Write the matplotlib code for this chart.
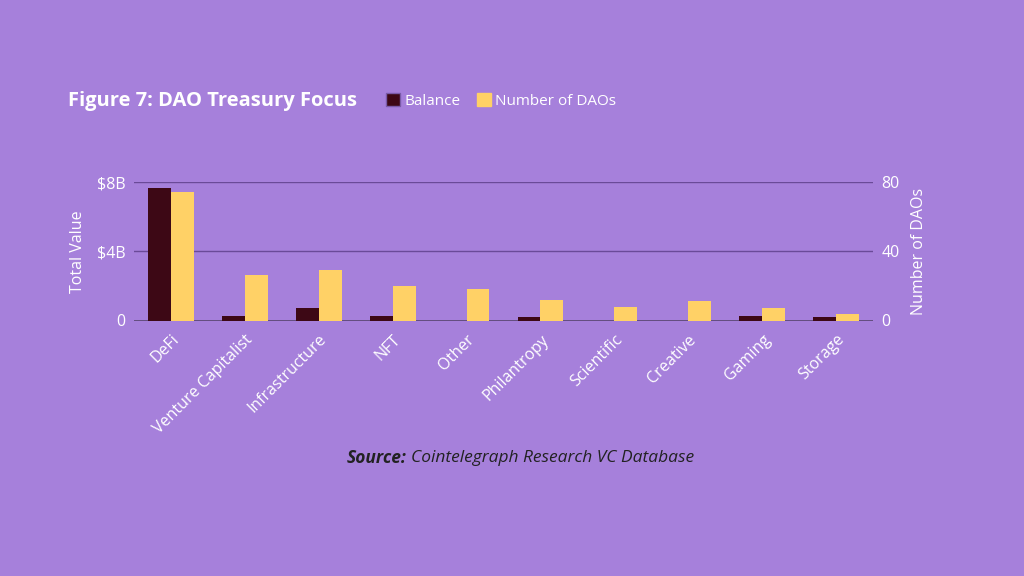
import numpy as np
import matplotlib.pyplot as plt

categorias = ["DeFi", "Venture Capitalist", "Infrastructure", "NFT", "Other",
              "Philantropy", "Scientific", "Creative", "Gaming", "Storage"]
balance_b = [7.64, 0.28, 0.74, 0.28, 0.0, 0.22, 0.0, 0.0, 0.28, 0.18]
num_daos = [74, 26, 29, 20, 18, 12, 8, 11, 7, 3.5]

FONDO = "#a680db"
COLOR_BAL = "#3d0815"
COLOR_DAO = "#ffd166"
GRILLA = "#6a4a98"

plt.rcParams["font.family"] = ["Open Sans", "DejaVu Sans"]

fig = plt.figure(figsize=(10.24, 5.76), dpi=100, facecolor=FONDO)
ax = fig.add_axes([134 / 1024, 1 - 320.5 / 576, (873 - 134) / 1024, (320.5 - 182) / 576])
ax.set_facecolor(FONDO)
ax2 = ax.twinx()

x = np.arange(len(categorias))
ancho = 0.31
ax.bar(x - ancho / 2, balance_b, ancho, color=COLOR_BAL, zorder=3)
ax2.bar(x + ancho / 2, num_daos, ancho, color=COLOR_DAO, zorder=3)

ax.set_xlim(-0.5, len(categorias) - 0.5)
ax.set_ylim(0, 8)
ax2.set_ylim(0, 80)
ax.set_yticks([0, 4, 8])
ax.set_yticklabels(["0", "$4B", "$8B"])
ax2.set_yticks([0, 40, 80])

ax.grid(axis="y", color=GRILLA, linewidth=1, zorder=0)
ax.set_axisbelow(True)
for a in (ax, ax2):
    for s in a.spines.values():
        s.set_visible(False)
    a.tick_params(length=0, colors="white", labelsize=11.5)
ax.tick_params(axis="y", pad=6)
ax2.tick_params(axis="y", pad=6)
ax.axhline(0, color="#5e4a78", linewidth=2, zorder=2)

ax.set_xticks(x)
ax.set_xticklabels(categorias, rotation=45, ha="right", rotation_mode="anchor", fontsize=11.5)
ax.tick_params(axis="x", pad=8)

ax.set_ylabel("Total Value", color="white", fontsize=11.5, labelpad=8)
ax2.set_ylabel("Number of DAOs", color="white", fontsize=11.5, labelpad=8)

fig.text(68 / 1024, 1 - 101 / 576, "Figure 7: DAO Treasury Focus", color="white",
         fontsize=14.5, fontweight="bold", va="center", ha="left")

handles = [plt.Rectangle((0, 0), 1, 1, color=COLOR_BAL, ec="#7a5aa8"),
           plt.Rectangle((0, 0), 1, 1, color=COLOR_DAO)]
fig.legend(handles, ["Balance", "Number of DAOs"], loc="center left",
           bbox_to_anchor=(372 / 1024, 1 - 101 / 576), ncol=2, frameon=False,
           handlelength=0.9, handleheight=0.9, handletextpad=0.3, columnspacing=1.1,
           labelcolor="white", fontsize=11)

fig.text(407 / 1024, 1 - 458 / 576, "Source:", color="#222222", fontsize=12.5,
         fontweight="bold", style="italic", ha="right", va="center")
fig.text(411 / 1024, 1 - 458 / 576, "Cointelegraph Research VC Database", color="#222222",
         fontsize=12.5, style="italic", ha="left", va="center")

fig.savefig("out.png", dpi=100, facecolor=FONDO)
